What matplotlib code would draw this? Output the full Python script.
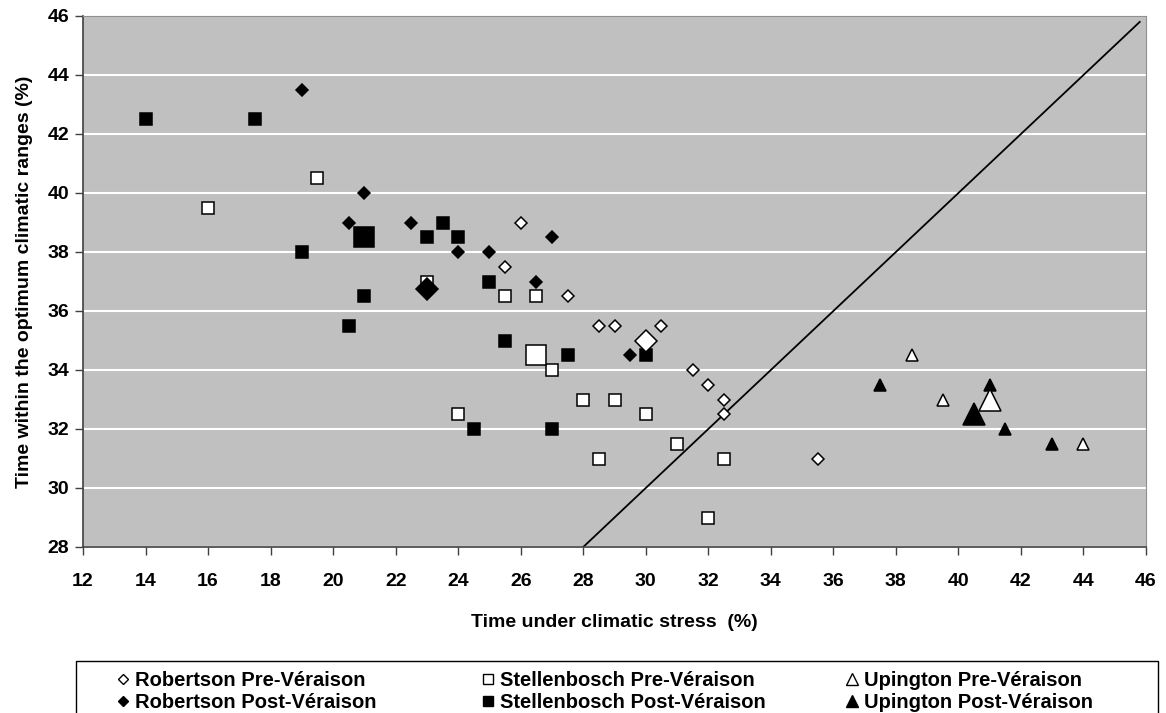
import matplotlib
matplotlib.use('Agg')
import matplotlib.pyplot as plt
from matplotlib.lines import Line2D
from matplotlib.patches import Rectangle

plt.rcParams['font.family'] = ['Liberation Sans', 'DejaVu Sans']
plt.rcParams['font.weight'] = 'bold'

# Robertson
rob_pre_x = [26, 25.5, 27.5, 28.5, 29, 30.5, 31.5, 32, 32.5, 32.5, 35.5]
rob_pre_y = [39, 37.5, 36.5, 35.5, 35.5, 35.5, 34, 33.5, 33, 32.5, 31]
rob_pre_mean = (30, 35)
rob_post_x = [19, 21, 20.5, 22.5, 24, 25, 27, 26.5, 29.5]
rob_post_y = [43.5, 40, 39, 39, 38, 38, 38.5, 37, 34.5]
rob_post_mean = (23, 36.75)

# Stellenbosch
ste_pre_x = [16, 19.5, 23, 25.5, 26.5, 27, 28, 29, 24, 30, 28.5, 31, 32.5, 32]
ste_pre_y = [39.5, 40.5, 37, 36.5, 36.5, 34, 33, 33, 32.5, 32.5, 31, 31.5, 31, 29]
ste_pre_mean = (26.5, 34.5)
ste_post_x = [14, 17.5, 19, 23, 23.5, 24, 21, 20.5, 25, 25.5, 27.5, 30, 24.5, 27]
ste_post_y = [42.5, 42.5, 38, 38.5, 39, 38.5, 36.5, 35.5, 37, 35, 34.5, 34.5, 32, 32]
ste_post_mean = (21, 38.5)

# Upington
upi_pre_x = [38.5, 39.5, 44]
upi_pre_y = [34.5, 33, 31.5]
upi_pre_mean = (41, 33)
upi_post_x = [37.5, 41, 41.5, 43]
upi_post_y = [33.5, 33.5, 32, 31.5]
upi_post_mean = (40.5, 32.5)

# 1:1 line
line_x = [28, 45.8]
line_y = [28, 45.8]

fig = plt.figure(figsize=(11.66, 7.13), dpi=100)
ax = fig.add_axes([83 / 1166, 1 - 547 / 713, (1146 - 83) / 1166, (547 - 16) / 713])
ax.set_facecolor('#c0c0c0')

ax.plot(line_x, line_y, color='black', lw=1.3, zorder=2)

series = [
    (rob_pre_x, rob_pre_y, rob_pre_mean, 'D', 'white', 6.0, 11.5),
    (rob_post_x, rob_post_y, rob_post_mean, 'D', 'black', 6.0, 11.5),
    (ste_pre_x, ste_pre_y, ste_pre_mean, 's', 'white', 8.3, 14.5),
    (ste_post_x, ste_post_y, ste_post_mean, 's', 'black', 8.3, 14.5),
    (upi_pre_x, upi_pre_y, upi_pre_mean, '^', 'white', 9.0, 15.5),
    (upi_post_x, upi_post_y, upi_post_mean, '^', 'black', 9.0, 15.5),
]
for xs, ys, mean, m, fc, ms, ms_big in series:
    ax.plot(xs, ys, ls='none', marker=m, ms=ms, mfc=fc, mec='black', mew=1.1, zorder=3)
    ax.plot([mean[0]], [mean[1]], ls='none', marker=m, ms=ms_big, mfc=fc, mec='black', mew=1.1, zorder=4)

ax.set_xlim(12, 46)
ax.set_ylim(28, 46)
ax.set_xticks(range(12, 47, 2))
ax.set_yticks(range(28, 47, 2))
ax.yaxis.grid(True, color='white', lw=1.5)
ax.set_axisbelow(True)
ax.tick_params(axis='both', direction='out', length=6, width=1, color='#404040',
               labelsize=14, pad=4)
ax.tick_params(axis='x', pad=13)
for lab in ax.get_xticklabels() + ax.get_yticklabels():
    lab.set_fontweight('bold')
for side in ['top', 'right']:
    ax.spines[side].set_color('#909090')
for side in ['left', 'bottom']:
    ax.spines[side].set_color('#404040')
    ax.spines[side].set_linewidth(1.2)

ax.set_xlabel('Time under climatic stress  (%)', fontsize=14, fontweight='bold', labelpad=17)
ax.set_ylabel('Time within the optimum climatic ranges (%)', fontsize=14, fontweight='bold', labelpad=10)

# legend box
fig.patches.append(Rectangle((76 / 1166, -0.02), (1158 - 76) / 1166, 1 - 661 / 713 + 0.02,
                             transform=fig.transFigure, fc='white', ec='black', lw=1))

cols = [
    (['Robertson Pre-Véraison', 'Robertson Post-Véraison'], 'D', 5.0, 107),
    (['Stellenbosch Pre-Véraison', 'Stellenbosch Post-Véraison'], 's', 7.0, 472),
    (['Upington Pre-Véraison', 'Upington Post-Véraison'], '^', 8.0, 836),
]
for labels, m, ms, xpix in cols:
    handles = [Line2D([], [], ls='none', marker=m, ms=ms, mfc=fc, mec='black', mew=1.0)
               for fc in ['white', 'black']]
    fig.legend(handles, labels, loc='upper left', bbox_to_anchor=(xpix / 1166, 1 - 661 / 713),
               frameon=False, handlelength=0.6, handletextpad=0.3,
               labelspacing=0.15, borderpad=0, prop={'weight': 'bold', 'size': 14.5})

fig.savefig('out.png', dpi=100)
